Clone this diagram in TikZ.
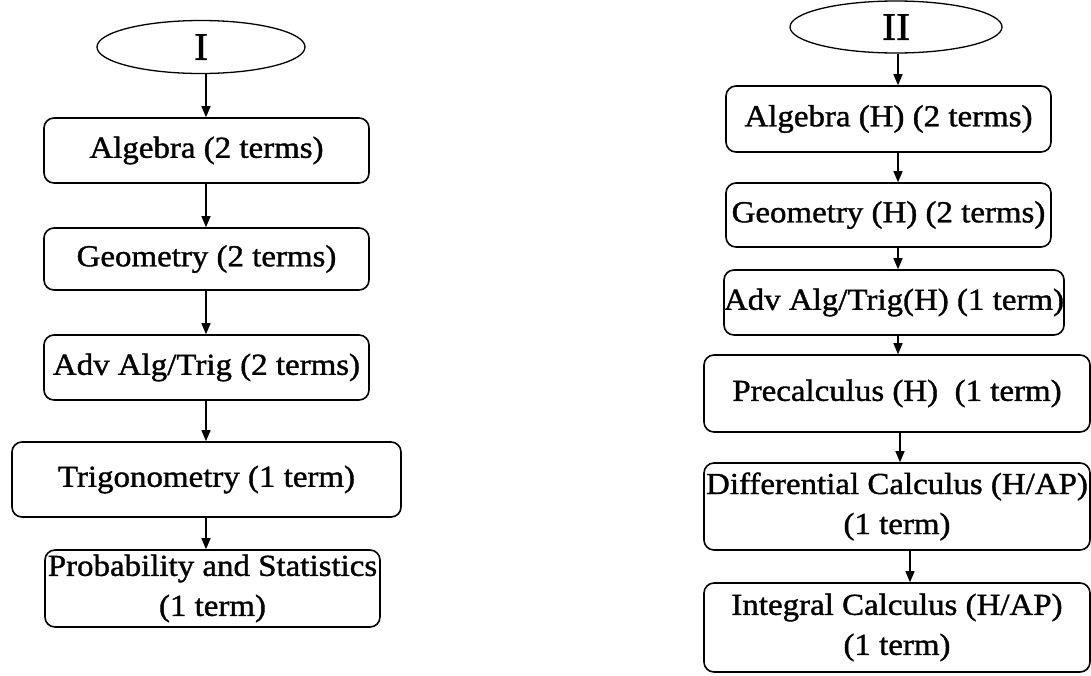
\documentclass[tikz,border=0pt]{standalone}
\usepackage{fontspec}
\setmainfont[FakeStretch=1.08,FakeBold=1.2]{Liberation Serif}
\usetikzlibrary{shapes.geometric,arrows.meta}
\begin{document}
\begin{tikzpicture}[x=1pt,y=-1pt,
  box/.style={draw,line width=1.6pt,rounded corners=10pt,inner sep=0pt,align=center,
    font=\fontsize{30.5}{40}\selectfont},
  oval/.style={draw,ellipse,line width=1.3pt,inner sep=0pt,font=\fontsize{39}{39}\selectfont},
  arr/.style={line width=1.4pt,-{Triangle[length=11pt,width=9pt]}}]
\useasboundingbox (0,0) rectangle (1091,675);
% left column
\node[oval,minimum width=208pt,minimum height=53pt] (e1) at (201,47) {I};
\node[box,minimum width=325pt,minimum height=65pt] (a1) at (206.5,150.5) {Algebra (2 terms)};
\node[box,minimum width=325pt,minimum height=62pt] (a2) at (206.5,259) {Geometry (2 terms)};
\node[box,minimum width=325pt,minimum height=65pt] (a3) at (206.5,367.5) {Adv Alg/Trig (2 terms)};
\node[box,minimum width=389pt,minimum height=75pt] (a4) at (206.5,479.5) {Trigonometry (1 term)};
\node[box,minimum width=335pt,minimum height=77pt] (a5) at (212.5,588.5) {Probability and Statistics\\(1 term)};
\coordinate (c1) at (206,0);
\draw[arr] (e1.south -| c1) -- (a1.north -| c1);
\draw[arr] (a1.south -| c1) -- (a2.north -| c1);
\draw[arr] (a2.south -| c1) -- (a3.north -| c1);
\draw[arr] (a3.south -| c1) -- (a4.north -| c1);
\draw[arr] (a4.south -| c1) -- (a5.north -| c1);
% right column
\node[oval,minimum width=212pt,minimum height=52pt] (e2) at (896,27) {II};
\node[box,minimum width=325pt,minimum height=66pt] (b1) at (888.5,119) {Algebra (H) (2 terms)};
\node[box,minimum width=325pt,minimum height=64pt] (b2) at (888.5,215) {Geometry (H) (2 terms)};
\node[box,minimum width=336pt,minimum height=65pt] (b3) at (894,302.5) {Adv Alg/Trig(H) (1 term)};
\node[box,minimum width=386pt,minimum height=77pt] (b4) at (897,393.5) {Precalculus (H)\ \ (1 term)};
\node[box,minimum width=386pt,minimum height=87pt] (b5) at (897,506.5) {Differential Calculus (H/AP)\\(1 term)};
\node[box,minimum width=386pt,minimum height=89pt] (b6) at (897,627.5) {Integral Calculus (H/AP)\\(1 term)};
\coordinate (c2) at (898,0);
\coordinate (c3) at (900,0);
\coordinate (c4) at (910,0);
\draw[arr] (e2.south -| c2) -- (b1.north -| c2);
\draw[arr] (b1.south -| c2) -- (b2.north -| c2);
\draw[arr] (b2.south -| c2) -- (b3.north -| c2);
\draw[arr] (b3.south -| c2) -- (b4.north -| c2);
\draw[arr] (b4.south -| c3) -- (b5.north -| c3);
\draw[arr] (b5.south -| c4) -- (b6.north -| c4);
\end{tikzpicture}
\end{document}
